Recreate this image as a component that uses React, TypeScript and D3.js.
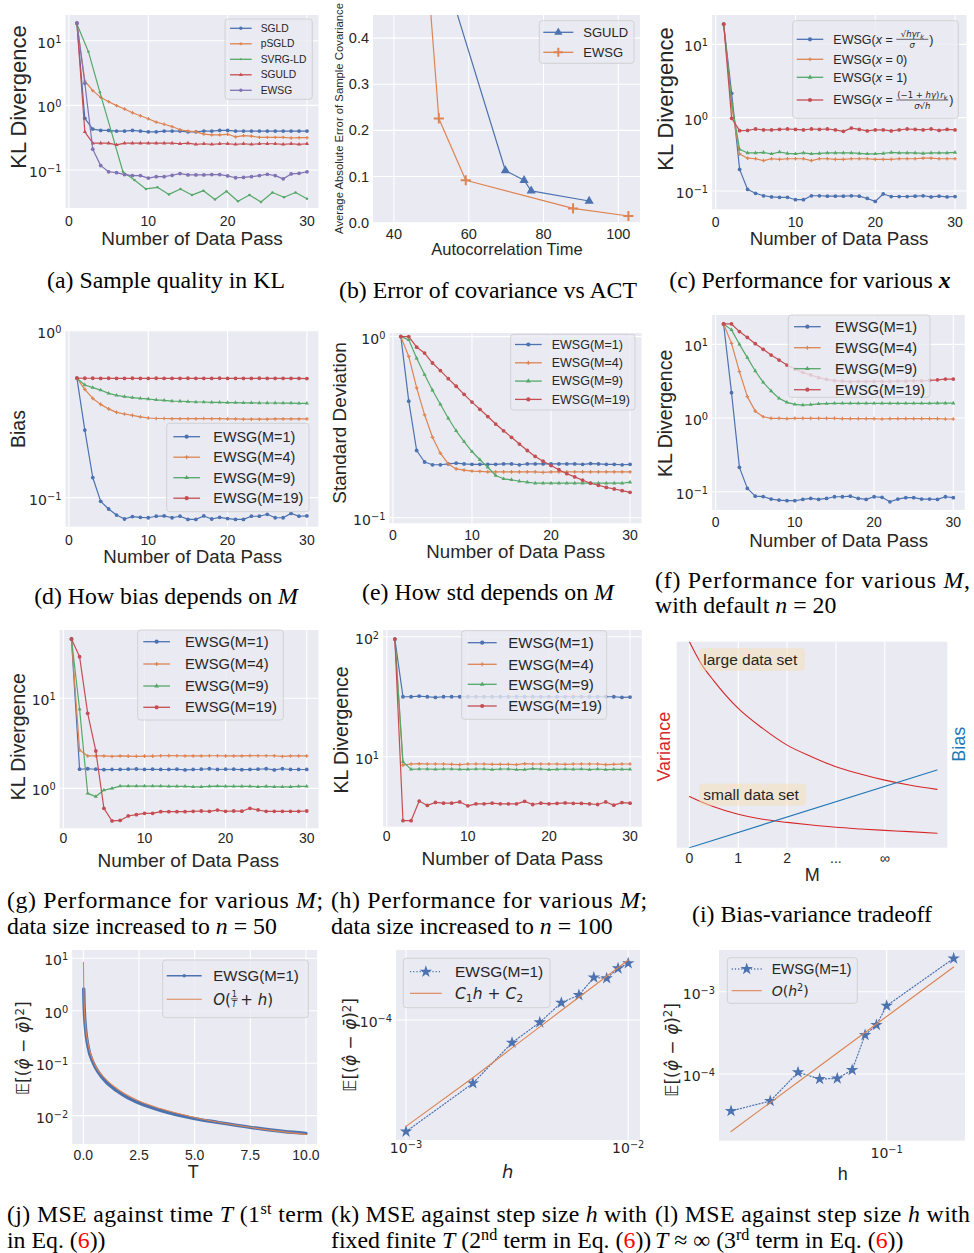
import React from 'react';
import * as d3 from 'd3';

// seaborn "deep" palette and darkgrid style
const BLUE = '#4C72B0';
const ORANGE = '#DD8452';
const GREEN = '#55A868';
const RED = '#C44E52';
const PURPLE = '#8172B3';
const TAB_RED = '#d62728';
const TAB_BLUE = '#1f77b4';
const BG = '#EAEAF2';
const INK = '#262626';
const SANS = "'Liberation Sans', Arial, Helvetica, sans-serif";
const MATH = "'DejaVu Sans', sans-serif";
const SERIF = "'Liberation Serif', 'Times New Roman', serif";

// ---------------- data ----------------
const passes = [1, 2, 3, 4, 5, 6, 7, 8, 9, 10, 11, 12, 13, 14, 15, 16, 17, 18, 19, 20, 21, 22, 23, 24, 25, 26, 27, 28, 29, 30];

// (a) sample quality in KL
const sgldA = [18.7, 0.63, 0.43, 0.41, 0.41, 0.40, 0.40, 0.41, 0.40, 0.39, 0.39, 0.40, 0.40, 0.40, 0.39, 0.39, 0.40, 0.40, 0.41, 0.41, 0.40, 0.40, 0.40, 0.40, 0.40, 0.40, 0.40, 0.40, 0.40, 0.40];
const psgldA = [18.7, 2.38, 1.69, 1.33, 1.14, 0.99, 0.88, 0.77, 0.69, 0.62, 0.55, 0.51, 0.47, 0.42, 0.40, 0.39, 0.36, 0.35, 0.35, 0.357, 0.325, 0.34, 0.335, 0.32, 0.32, 0.32, 0.32, 0.313, 0.316, 0.316];
const svrgPassA = [1, 2.45, 3.9, 5.35, 6.8, 8.25, 9.7, 11.15, 12.6, 14.05, 15.5, 16.95, 18.4, 19.85, 21.3, 22.75, 24.2, 25.65, 27.1, 28.55, 30];
const svrgA = [18.1, 6.76, 1.59, 0.39, 0.094, 0.070, 0.051, 0.054, 0.042, 0.051, 0.041, 0.048, 0.035, 0.047, 0.033, 0.041, 0.032, 0.045, 0.038, 0.045, 0.036];
const sguldA = [18.7, 0.39, 0.26, 0.26, 0.26, 0.245, 0.26, 0.26, 0.26, 0.26, 0.26, 0.26, 0.26, 0.255, 0.26, 0.25, 0.255, 0.25, 0.255, 0.255, 0.25, 0.255, 0.25, 0.255, 0.255, 0.255, 0.25, 0.255, 0.25, 0.255];
const ewsgA = [18.7, 2.19, 0.21, 0.117, 0.094, 0.091, 0.085, 0.082, 0.082, 0.075, 0.079, 0.079, 0.083, 0.088, 0.084, 0.084, 0.084, 0.085, 0.085, 0.081, 0.076, 0.077, 0.079, 0.082, 0.086, 0.082, 0.073, 0.087, 0.089, 0.094];

// (b) error of covariance vs autocorrelation time
const sguldActB = [51.3, 69.8, 74.8, 76.7, 92.2];
const sguldErrB = [0.6, 0.113, 0.092, 0.069, 0.047];
const ewsgActB = [48.0, 52.0, 59.2, 87.9, 102.7];
const ewsgErrB = [0.65, 0.226, 0.092, 0.031, 0.0145];

// (c) various x
const cBlue = [18.9, 2.15, 0.197, 0.105, 0.093, 0.086, 0.083, 0.082, 0.082, 0.076, 0.076, 0.086, 0.086, 0.085, 0.085, 0.085, 0.086, 0.085, 0.079, 0.072, 0.091, 0.084, 0.084, 0.084, 0.085, 0.086, 0.083, 0.085, 0.083, 0.084];
const cOrange = [18.9, 1.45, 0.32, 0.28, 0.275, 0.26, 0.275, 0.27, 0.275, 0.275, 0.275, 0.26, 0.275, 0.275, 0.27, 0.27, 0.275, 0.275, 0.275, 0.27, 0.27, 0.27, 0.275, 0.275, 0.275, 0.28, 0.28, 0.275, 0.275, 0.275];
const cGreen = [18.9, 1.6, 0.37, 0.33, 0.33, 0.335, 0.32, 0.34, 0.325, 0.32, 0.33, 0.32, 0.325, 0.33, 0.33, 0.33, 0.33, 0.325, 0.32, 0.32, 0.325, 0.335, 0.33, 0.33, 0.33, 0.325, 0.33, 0.33, 0.33, 0.335];
const cRed = [18.9, 0.98, 0.665, 0.67, 0.70, 0.68, 0.68, 0.69, 0.70, 0.69, 0.68, 0.70, 0.69, 0.70, 0.68, 0.65, 0.72, 0.69, 0.66, 0.68, 0.68, 0.66, 0.68, 0.70, 0.69, 0.68, 0.70, 0.67, 0.69, 0.68];

// (d) bias vs M
const dBlue = [0.52, 0.254, 0.132, 0.095, 0.0855, 0.0787, 0.0745, 0.077, 0.0762, 0.0758, 0.0774, 0.0777, 0.0758, 0.0774, 0.0741, 0.0741, 0.0777, 0.0745, 0.0762, 0.0749, 0.0741, 0.0741, 0.0774, 0.0774, 0.0795, 0.0758, 0.0758, 0.0805, 0.0774, 0.0777];
const dOrange = [0.52, 0.445, 0.393, 0.362, 0.34, 0.324, 0.317, 0.311, 0.305, 0.300, 0.298, 0.298, 0.297, 0.297, 0.297, 0.297, 0.298, 0.297, 0.297, 0.296, 0.296, 0.295, 0.295, 0.295, 0.295, 0.296, 0.296, 0.296, 0.296, 0.296];
const dGreen = [0.52, 0.473, 0.456, 0.441, 0.421, 0.41, 0.403, 0.397, 0.393, 0.390, 0.385, 0.383, 0.379, 0.378, 0.376, 0.374, 0.374, 0.372, 0.372, 0.371, 0.371, 0.370, 0.370, 0.369, 0.369, 0.369, 0.368, 0.368, 0.367, 0.367];
const dRed = [0.52, 0.519, 0.519, 0.518, 0.519, 0.518, 0.518, 0.519, 0.518, 0.518, 0.519, 0.518, 0.518, 0.518, 0.519, 0.518, 0.518, 0.518, 0.519, 0.518, 0.518, 0.518, 0.518, 0.519, 0.518, 0.518, 0.518, 0.518, 0.518, 0.517];

// (e) std vs M
const eBlue = [1.0, 0.44, 0.235, 0.203, 0.196, 0.196, 0.198, 0.2, 0.198, 0.197, 0.197, 0.197, 0.197, 0.198, 0.198, 0.196, 0.198, 0.198, 0.198, 0.198, 0.198, 0.198, 0.198, 0.197, 0.199, 0.198, 0.197, 0.197, 0.196, 0.197];
const eOrange = [1.0, 0.777, 0.521, 0.37, 0.278, 0.227, 0.198, 0.186, 0.183, 0.181, 0.18, 0.179, 0.179, 0.179, 0.179, 0.179, 0.179, 0.179, 0.178, 0.179, 0.179, 0.179, 0.179, 0.179, 0.179, 0.179, 0.179, 0.179, 0.179, 0.179];
const eGreen = [1.0, 0.96, 0.76, 0.617, 0.506, 0.423, 0.354, 0.302, 0.263, 0.232, 0.209, 0.19, 0.171, 0.164, 0.162, 0.159, 0.157, 0.155, 0.155, 0.155, 0.155, 0.155, 0.155, 0.155, 0.155, 0.155, 0.155, 0.155, 0.155, 0.157];
const eRed = [1.0, 1.0, 0.874, 0.811, 0.715, 0.649, 0.586, 0.532, 0.48, 0.435, 0.397, 0.362, 0.329, 0.302, 0.278, 0.255, 0.235, 0.218, 0.205, 0.194, 0.184, 0.175, 0.168, 0.161, 0.155, 0.151, 0.147, 0.144, 0.141, 0.138];

// (f) KL vs M, n = 20
const fBlue = [18.9, 2.21, 0.214, 0.111, 0.087, 0.086, 0.0795, 0.077, 0.0755, 0.0755, 0.0787, 0.081, 0.0787, 0.081, 0.0855, 0.0855, 0.087, 0.081, 0.0787, 0.0855, 0.084, 0.073, 0.0795, 0.083, 0.083, 0.0795, 0.0795, 0.0787, 0.0855, 0.083];
const fOrange = [18.9, 10.3, 4.26, 1.95, 1.24, 1.04, 0.99, 0.99, 0.98, 0.99, 0.99, 0.99, 0.99, 0.99, 0.99, 0.98, 0.98, 0.98, 0.98, 0.98, 0.97, 0.98, 0.98, 0.98, 0.98, 0.98, 0.98, 0.98, 0.97, 0.97];
const fGreen = [18.9, 15.7, 10.0, 6.6, 4.35, 3.05, 2.33, 1.85, 1.63, 1.53, 1.5, 1.52, 1.56, 1.57, 1.58, 1.58, 1.58, 1.58, 1.58, 1.58, 1.58, 1.58, 1.58, 1.58, 1.58, 1.58, 1.58, 1.59, 1.59, 1.59];
const fRed = [18.9, 18.9, 14.9, 12.4, 10.2, 8.55, 7.16, 6.12, 5.24, 4.62, 4.17, 3.84, 3.53, 3.35, 3.21, 3.17, 3.11, 3.14, 3.14, 3.14, 3.14, 3.14, 3.17, 3.17, 3.2, 3.2, 3.25, 3.3, 3.38, 3.38];

// (g) KL vs M, n = 50
const gBlue = [45.6, 1.63, 1.65, 1.63, 1.61, 1.62, 1.62, 1.63, 1.64, 1.62, 1.63, 1.62, 1.62, 1.63, 1.6, 1.62, 1.63, 1.65, 1.62, 1.63, 1.63, 1.61, 1.62, 1.63, 1.65, 1.6, 1.65, 1.62, 1.62, 1.62];
const gOrange = [45.6, 2.67, 2.29, 2.29, 2.29, 2.26, 2.29, 2.28, 2.27, 2.28, 2.28, 2.3, 2.31, 2.3, 2.29, 2.29, 2.29, 2.3, 2.3, 2.29, 2.29, 2.29, 2.31, 2.3, 2.3, 2.3, 2.26, 2.29, 2.29, 2.29];
const gGreen = [45.6, 7.6, 0.88, 0.81, 0.957, 1.0, 1.06, 1.06, 1.06, 1.06, 1.06, 1.06, 1.05, 1.05, 1.05, 1.04, 1.04, 1.05, 1.06, 1.05, 1.05, 1.05, 1.05, 1.04, 1.05, 1.04, 1.04, 1.04, 1.05, 1.05];
const gRed = [45.6, 29, 6.81, 2.6, 0.6, 0.434, 0.44, 0.493, 0.51, 0.527, 0.527, 0.55, 0.55, 0.55, 0.55, 0.555, 0.56, 0.555, 0.573, 0.555, 0.56, 0.557, 0.6, 0.575, 0.555, 0.555, 0.555, 0.555, 0.555, 0.56];

// (h) KL vs M, n = 100
const hBlue = [95.6, 31.6, 31.6, 32.0, 31.6, 31.2, 31.6, 31.6, 31.6, 31.6, 31.6, 31.6, 31.6, 31.6, 31.6, 31.6, 31.6, 31.6, 31.6, 31.6, 31.6, 31.6, 31.6, 31.6, 31.6, 31.6, 31.6, 31.6, 31.2, 31.4];
const hOrange = [95.6, 8.5, 8.7, 8.75, 8.7, 8.7, 8.7, 8.65, 8.6, 8.7, 8.7, 8.7, 8.65, 8.65, 8.65, 8.6, 8.75, 8.7, 8.7, 8.7, 8.7, 8.65, 8.7, 8.7, 8.7, 8.7, 8.6, 8.65, 8.7, 8.7];
const hGreen = [95.6, 9.1, 7.84, 7.9, 7.9, 7.85, 7.9, 7.9, 7.85, 7.85, 7.9, 7.9, 7.8, 7.9, 7.9, 7.8, 7.8, 7.95, 7.9, 7.8, 7.85, 7.9, 7.85, 7.9, 7.8, 7.9, 7.8, 7.85, 7.85, 7.85];
const hRed = [95.6, 2.93, 2.93, 4.27, 3.93, 4.16, 4.1, 4.1, 4.2, 3.9, 4.05, 4.05, 4.1, 4.05, 4.05, 4.05, 4.25, 4.0, 4.1, 4.05, 4.08, 4.12, 4.08, 4.08, 4.05, 4.0, 4.2, 3.95, 4.15, 4.1];

// (i) bias-variance sketch
const iM = [0, 0.25, 0.5, 1, 1.5, 2, 2.5, 3, 3.5, 4, 4.5, 5.07];
const iVarLarge = [1.0, 0.89, 0.81, 0.676, 0.579, 0.498, 0.442, 0.393, 0.358, 0.328, 0.304, 0.283];
const iVarSmall = [0.248, 0.222, 0.199, 0.162, 0.138, 0.123, 0.11, 0.099, 0.091, 0.084, 0.078, 0.07];
const iBiasM = [0, 5.07];
const iBias = [0, 0.377];
const iTickLabels = ['0', '1', '2', '...', '\u221E'];

// (j) MSE vs T
const jTimeBlue = [0.017, 0.03, 0.05, 0.1, 0.2, 0.45, 0.7, 1.0, 1.5, 2.0, 2.5, 3.5, 5.0, 6.0, 7.5, 9.0, 10.0];
const jMseBlue = [2.6, 1.5, 0.9, 0.45, 0.22, 0.1, 0.065, 0.045, 0.03, 0.022, 0.0175, 0.0125, 0.0088, 0.0075, 0.006, 0.005, 0.0046];
const jTimeFit = [0.006, 0.01, 0.03, 0.05, 0.1, 0.2, 0.45, 1.0, 1.5, 2.5, 3.5, 5.0, 7.5, 10.0];
const jMseFit = [8.4, 5.0, 1.7, 1.0, 0.5, 0.25, 0.11, 0.05, 0.033, 0.019, 0.0135, 0.0092, 0.006, 0.0044];

// (k) MSE vs h, finite T
const kH = [0.001, 0.002, 0.003, 0.004, 0.005, 0.006, 0.007, 0.008, 0.009, 0.01];
const kMse = [2.14e-5, 4.17e-5, 7.31e-5, 9.68e-5, 1.27e-4, 1.41e-4, 1.80e-4, 1.78e-4, 2.04e-4, 2.19e-4];
const kFit = [2.3e-5, 4.5e-5, 6.8e-5, 9.1e-5, 1.14e-4, 1.37e-4, 1.6e-4, 1.83e-4, 2.06e-4, 2.29e-4];

// (l) MSE vs h, T ~ infinity
const lH = [0.02, 0.03, 0.04, 0.05, 0.06, 0.07, 0.08, 0.09, 0.1, 0.2];
const lMse = [3.56e-5, 4.7e-5, 1.05e-4, 8.69e-5, 8.85e-5, 1.12e-4, 2.98e-4, 3.94e-4, 6.76e-4, 2.54e-3];
const lFit = [2e-5, 4.5e-5, 8e-5, 1.25e-4, 1.8e-4, 2.45e-4, 3.2e-4, 4.05e-4, 5e-4, 2e-3];

const mLabels = ['EWSG(M=1)', 'EWSG(M=4)', 'EWSG(M=9)', 'EWSG(M=19)'];

// ---------------- helpers ----------------
type Marker = 'dot' | 'plus' | 'tri' | 'star' | 'none';
interface Series { x: number[]; y: number[]; color: string; marker: Marker; ms?: number; lw?: number; dash?: string; smooth?: boolean; }
interface LegendItem { label?: string; render?: (tx: number, ty: number, fs: number) => React.ReactNode; color: string; marker: Marker; ms?: number; lw?: number; dash?: string; }
interface LegendSpec { x0: number; y0: number; x1: number; y1: number; rows: number[]; h0: number; h1: number; tx: number; fs: number; items: LegendItem[]; }
interface Tick { v: number; label: React.ReactNode; math?: boolean; }
interface PanelSpec {
  id: string; L: number; R: number; T: number; B: number;
  xLog?: boolean; yLog?: boolean; xDom: [number, number]; yDom: [number, number];
  xTicks: Tick[]; yTicks: Tick[]; tickFs: number; xTickY: number;
  xLabel: React.ReactNode; xl: [number, number, number];
  yLabel: React.ReactNode; yl: [number, number, number]; yLabelFont?: string; yLabelColor?: string;
  series: Series[]; legend?: LegendSpec;
  overlay?: () => React.ReactNode;
}

const pow10 = (e: number) => (
  <>10<tspan dy="-0.5em" fontSize="0.7em">{e < 0 ? '\u2212' + -e : String(e)}</tspan></>
);
const decade = (e: number): Tick => ({ v: 10 ** e, label: pow10(e), math: true });
const lin = (vals: number[], fmt?: (v: number) => string): Tick[] =>
  vals.map(v => ({ v, label: fmt ? fmt(v) : String(v) }));

function Mark({ m, x, y, c, s = 1 }: { m: Marker; x: number; y: number; c: string; s?: number }) {
  if (m === 'dot') return <circle cx={x} cy={y} r={2.1 * s} fill={c} />;
  if (m === 'plus') {
    const a = 2.4 * s;
    return <path d={`M${x - a},${y}H${x + a}M${x},${y - a}V${y + a}`} stroke={c} strokeWidth={s > 1.5 ? 2 : 1.2} />;
  }
  if (m === 'tri') {
    const r = 2.8 * s;
    return <path d={`M${x},${y - r}L${x + r * 0.866},${y + r * 0.5}L${x - r * 0.866},${y + r * 0.5}Z`} fill={c} />;
  }
  if (m === 'star') return <path transform={`translate(${x},${y})`} d={d3.symbol(d3.symbolStar, 48 * s * s)() as string} fill={c} />;
  return null;
}

function Frac({ cx, y, w, num, den, fs = 8.5 }: { cx: number; y: number; w: number; num: React.ReactNode; den: React.ReactNode; fs?: number }) {
  return (
    <g fontFamily={MATH} fontSize={fs} fill={INK}>
      <text x={cx} y={y - 2.3} textAnchor="middle">{num}</text>
      <line x1={cx - w / 2} x2={cx + w / 2} y1={y} y2={y} stroke={INK} strokeWidth={0.7} />
      <text x={cx} y={y + 8.6} textAnchor="middle">{den}</text>
    </g>
  );
}

function Panel({ p }: { p: PanelSpec }) {
  const x: any = (p.xLog ? d3.scaleLog() : d3.scaleLinear()).domain(p.xDom).range([p.L, p.R]);
  const y: any = (p.yLog ? d3.scaleLog() : d3.scaleLinear()).domain(p.yDom).range([p.B, p.T]);
  const clip = `clip-${p.id}`;
  const lg = p.legend;
  return (
    <g>
      <clipPath id={clip}><rect x={p.L} y={p.T} width={p.R - p.L} height={p.B - p.T} /></clipPath>
      <rect x={p.L} y={p.T} width={p.R - p.L} height={p.B - p.T} fill={BG} />
      {p.xTicks.map((t, i) => <line key={'gx' + i} x1={x(t.v)} x2={x(t.v)} y1={p.T} y2={p.B} stroke="#fff" strokeWidth={1.1} />)}
      {p.yTicks.map((t, i) => <line key={'gy' + i} x1={p.L} x2={p.R} y1={y(t.v)} y2={y(t.v)} stroke="#fff" strokeWidth={1.1} />)}
      <g clipPath={`url(#${clip})`}>
        {p.series.map((s, i) => {
          const gen = d3.line<number>().x((_, j) => x(s.x[j])).y(d => y(d));
          if (s.smooth) gen.curve(d3.curveMonotoneX);
          return (
            <g key={'s' + i}>
              <path d={gen(s.y) as string} fill="none" stroke={s.color} strokeWidth={s.lw ?? 1.2} strokeDasharray={s.dash} strokeLinejoin="round" strokeLinecap="round" />
              {s.marker !== 'none' && s.y.map((v, j) => <Mark key={j} m={s.marker} x={x(s.x[j])} y={y(v)} c={s.color} s={s.ms ?? 1} />)}
            </g>
          );
        })}
      </g>
      {p.overlay && p.overlay()}
      {p.xTicks.map((t, i) => (
        <text key={'tx' + i} x={x(t.v)} y={p.xTickY} dy="0.35em" textAnchor="middle" fontSize={p.tickFs} fontFamily={t.math ? MATH : SANS} fill={INK}>{t.label}</text>
      ))}
      {p.yTicks.map((t, i) => (
        <text key={'ty' + i} x={p.L - 4} y={y(t.v)} dy={t.math ? '0.5em' : '0.35em'} textAnchor="end" fontSize={p.tickFs} fontFamily={t.math ? MATH : SANS} fill={INK}>{t.label}</text>
      ))}
      <text x={p.xl[0]} y={p.xl[1]} dy="0.35em" textAnchor="middle" fontSize={p.xl[2]} fill={INK}>{p.xLabel}</text>
      <text transform={`translate(${p.yl[0]},${p.yl[1]}) rotate(-90)`} dy="0.35em" textAnchor="middle" fontSize={p.yl[2]} fontFamily={p.yLabelFont ?? SANS} fill={p.yLabelColor ?? INK}>{p.yLabel}</text>
      {lg && (
        <g>
          <rect x={lg.x0} y={lg.y0} width={lg.x1 - lg.x0} height={lg.y1 - lg.y0} rx={3} fill={BG} fillOpacity={0.8} stroke="#cccccc" strokeWidth={0.8} />
          {lg.items.map((it, i) => {
            const ty = lg.rows[i];
            return (
              <g key={'lg' + i}>
                <line x1={lg.h0} x2={lg.h1} y1={ty} y2={ty} stroke={it.color} strokeWidth={it.lw ?? 1.3} strokeDasharray={it.dash} />
                <Mark m={it.marker} x={(lg.h0 + lg.h1) / 2} y={ty} c={it.color} s={it.ms ?? 1} />
                {it.render ? it.render(lg.tx, ty, lg.fs) : (
                  <text x={lg.tx} y={ty} dy="0.35em" fontSize={lg.fs} fill={INK}>{it.label}</text>
                )}
              </g>
            );
          })}
        </g>
      )}
    </g>
  );
}

const passDom: [number, number] = [-0.45, 31.45];
const passTicks = lin([0, 10, 20, 30]);
const mItems = (): LegendItem[] => [
  { label: mLabels[0], color: BLUE, marker: 'dot' },
  { label: mLabels[1], color: ORANGE, marker: 'plus', ms: 0.85 },
  { label: mLabels[2], color: GREEN, marker: 'tri' },
  { label: mLabels[3], color: RED, marker: 'dot' },
];
const mSeries = (b: number[], o: number[], g: number[], r: number[]): Series[] => [
  { x: passes, y: b, color: BLUE, marker: 'dot', ms: 0.9 },
  { x: passes, y: o, color: ORANGE, marker: 'plus', ms: 0.75 },
  { x: passes, y: g, color: GREEN, marker: 'tri', ms: 0.85 },
  { x: passes, y: r, color: RED, marker: 'dot', ms: 0.9 },
];

const mseLabel = (
  <>
    <tspan>{'\uD835\uDD3C'}[(</tspan>
    <tspan fontStyle="italic">{'\u03C6\u0302'}</tspan>
    <tspan> {'\u2212'} </tspan>
    <tspan fontStyle="italic">{'\u03C6\u0304'}</tspan>
    <tspan>)</tspan>
    <tspan dy="-0.45em" fontSize="0.7em">2</tspan>
    <tspan dy="0.32em">]</tspan>
  </>
);

const xEq = (tail: string) => (tx: number, ty: number, fs: number) => (
  <text x={tx} y={ty} dy="0.35em" fontSize={fs} fill={INK}>EWSG(<tspan fontStyle="italic">x</tspan>{' = ' + tail}</text>
);

const panels: PanelSpec[] = [
  {
    id: 'a', L: 65.4, R: 318.5, T: 15, B: 208, yLog: true, xDom: passDom, yDom: [10 ** -1.587, 10 ** 1.397],
    xTicks: passTicks, yTicks: [-1, 0, 1].map(decade), tickFs: 14, xTickY: 221,
    xLabel: 'Number of Data Pass', xl: [192, 238, 19], yLabel: 'KL Divergence', yl: [18, 97, 22],
    series: [
      { x: passes, y: sgldA, color: BLUE, marker: 'dot', ms: 0.9 },
      { x: passes, y: psgldA, color: ORANGE, marker: 'plus', ms: 0.7 },
      { x: svrgPassA, y: svrgA, color: GREEN, marker: 'dot', ms: 0.6 },
      { x: passes, y: sguldA, color: RED, marker: 'tri', ms: 0.85 },
      { x: passes, y: ewsgA, color: PURPLE, marker: 'dot', ms: 0.9 },
    ],
    legend: {
      x0: 225, y0: 19, x1: 312.3, y1: 99.3, rows: [28.3, 43.8, 59.3, 74.8, 90.3], h0: 230, h1: 251.7, tx: 260.7, fs: 10.3,
      items: [
        { label: 'SGLD', color: BLUE, marker: 'dot', ms: 0.8 },
        { label: 'pSGLD', color: ORANGE, marker: 'plus', ms: 0.6 },
        { label: 'SVRG-LD', color: GREEN, marker: 'dot', ms: 0.5 },
        { label: 'SGULD', color: RED, marker: 'tri', ms: 0.8 },
        { label: 'EWSG', color: PURPLE, marker: 'dot', ms: 0.8 },
      ],
    },
  },
  {
    id: 'b', L: 373, R: 640, T: 15, B: 222.7, xDom: [34.4, 105.8], yDom: [0, 0.45],
    xTicks: lin([40, 60, 80, 100]), yTicks: lin([0, 0.1, 0.2, 0.3, 0.4], v => v.toFixed(1)), tickFs: 14.5, xTickY: 233.5,
    xLabel: 'Autocorrelation Time', xl: [507, 249, 16.5], yLabel: 'Average Absolute Error of Sample Covariance', yl: [339.5, 118.5, 11.3],
    series: [
      { x: sguldActB, y: sguldErrB, color: BLUE, marker: 'tri', ms: 1.9 },
      { x: ewsgActB, y: ewsgErrB, color: ORANGE, marker: 'plus', ms: 2.1 },
    ],
    legend: {
      x0: 539.3, y0: 20.7, x1: 634, y1: 63.3, rows: [32.3, 52.3], h0: 543.3, h1: 573.3, tx: 583.3, fs: 13,
      items: [
        { label: 'SGULD', color: BLUE, marker: 'tri', ms: 1.7 },
        { label: 'EWSG', color: ORANGE, marker: 'plus', ms: 1.9 },
      ],
    },
  },
  {
    id: 'c', L: 712.1, R: 966.6, T: 15, B: 209.3, yLog: true, xDom: passDom, yDom: [10 ** -1.25, 10 ** 1.4],
    xTicks: passTicks, yTicks: [-1, 0, 1].map(decade), tickFs: 14, xTickY: 221.7,
    xLabel: 'Number of Data Pass', xl: [839, 238.3, 18.7], yLabel: 'KL Divergence', yl: [665, 99, 22],
    series: mSeries(cBlue, cOrange, cGreen, cRed),
    legend: {
      x0: 792.7, y0: 20.7, x1: 958.3, y1: 118.3, rows: [39.3, 59.3, 77.3, 100], h0: 796.7, h1: 823.3, tx: 833.3, fs: 12.5,
      items: [
        {
          color: BLUE, marker: 'dot', render: (tx, ty, fs) => (
            <g>
              {xEq('')(tx, ty, fs)}
              <Frac cx={tx + 79} y={ty} w={32} fs={8.5} num={<tspan fontStyle="italic">{'\u221Ah\u03B3r'}<tspan fontSize="0.75em" dy="2">k</tspan></tspan>} den={<tspan fontStyle="italic">{'\u03C3'}</tspan>} />
              <text x={tx + 96} y={ty} dy="0.35em" fontSize={fs} fill={INK}>)</text>
            </g>
          ),
        },
        { color: ORANGE, marker: 'plus', ms: 0.8, render: xEq('0)') },
        { color: GREEN, marker: 'tri', render: xEq('1)') },
        {
          color: RED, marker: 'dot', render: (tx, ty, fs) => (
            <g>
              {xEq('')(tx, ty, fs)}
              <Frac cx={tx + 89} y={ty} w={52} fs={8.5} num={<>{'(\u22121 + '}<tspan fontStyle="italic">{'h\u03B3'}</tspan>){'\u200A'}<tspan fontStyle="italic">r</tspan><tspan fontSize="0.75em" dy="2">k</tspan></>} den={<tspan fontStyle="italic">{'\u03C3\u221Ah'}</tspan>} />
              <text x={tx + 116} y={ty} dy="0.35em" fontSize={fs} fill={INK}>)</text>
            </g>
          ),
        },
      ],
    },
  },
  {
    id: 'd', L: 65.4, R: 318.4, T: 330.7, B: 526.7, yLog: true, xDom: passDom, yDom: [10 ** -1.174, 1],
    xTicks: passTicks, yTicks: [-1, 0].map(decade), tickFs: 14, xTickY: 540,
    xLabel: 'Number of Data Pass', xl: [192.7, 556.7, 18.7], yLabel: 'Bias', yl: [18.3, 429, 19.5],
    series: mSeries(dBlue, dOrange, dGreen, dRed),
    legend: { x0: 166.7, y0: 423.3, x1: 309, y1: 511.7, rows: [436.7, 457.2, 477.7, 498.2], h0: 173.3, h1: 200, tx: 213.3, fs: 14.4, items: mItems() },
  },
  {
    id: 'e', L: 389.4, R: 641.5, T: 333, B: 523.3, yLog: true, xDom: passDom, yDom: [10 ** -1.031, 10 ** 0.02],
    xTicks: passTicks, yTicks: [-1, 0].map(decade), tickFs: 14, xTickY: 535,
    xLabel: 'Number of Data Pass', xl: [515.7, 551.7, 18.7], yLabel: 'Standard Deviation', yl: [339, 423, 19],
    series: mSeries(eBlue, eOrange, eGreen, eRed),
    legend: { x0: 510.7, y0: 334.3, x1: 635, y1: 410, rows: [344.5, 362.8, 381.1, 399.4], h0: 515, h1: 541.7, tx: 551.7, fs: 12.5, items: mItems() },
  },
  {
    id: 'f', L: 712.1, R: 964.8, T: 315, B: 510, yLog: true, xDom: passDom, yDom: [10 ** -1.248, 10 ** 1.398],
    xTicks: passTicks, yTicks: [-1, 0, 1].map(decade), tickFs: 14, xTickY: 521.7,
    xLabel: 'Number of Data Pass', xl: [838.7, 540, 18.7], yLabel: 'KL Divergence', yl: [665, 413.3, 19.5],
    series: mSeries(fBlue, fOrange, fGreen, fRed),
    legend: { x0: 788.3, y0: 315, x1: 930, y1: 397.3, rows: [326.7, 347.7, 368.7, 389.7], h0: 794, h1: 820.7, tx: 835, fs: 14.4, items: mItems() },
  },
  {
    id: 'g', L: 59.7, R: 318.5, T: 630, B: 828.3, yLog: true, xDom: passDom, yDom: [10 ** -0.444, 10 ** 1.759],
    xTicks: passTicks, yTicks: [0, 1].map(decade), tickFs: 14, xTickY: 838.3,
    xLabel: 'Number of Data Pass', xl: [188.3, 860, 19], yLabel: 'KL Divergence', yl: [18.3, 736.7, 19.5],
    series: mSeries(gBlue, gOrange, gGreen, gRed),
    legend: { x0: 137.7, y0: 630, x1: 283.3, y1: 720, rows: [641.7, 664, 686, 707.3], h0: 143.3, h1: 170, tx: 185, fs: 14.7, items: mItems() },
  },
  {
    id: 'h', L: 383.1, R: 641.8, T: 630, B: 826.7, yLog: true, xDom: passDom, yDom: [10 ** 0.417, 10 ** 2.056],
    xTicks: passTicks, yTicks: [1, 2].map(decade), tickFs: 14, xTickY: 836,
    xLabel: 'Number of Data Pass', xl: [512.3, 858.3, 19], yLabel: 'KL Divergence', yl: [341, 730, 19.5],
    series: mSeries(hBlue, hOrange, hGreen, hRed),
    legend: { x0: 461.7, y0: 630.7, x1: 606.7, y1: 719.3, rows: [642.7, 664.3, 684.3, 706], h0: 467.7, h1: 496.7, tx: 508.3, fs: 15, items: mItems() },
  },
  {
    id: 'i', L: 676.7, R: 947.3, T: 641.7, B: 847.7, xDom: [-0.26, 5.28], yDom: [0, 1],
    xTicks: iTickLabels.map((label, v) => ({ v, label })), yTicks: [], tickFs: 14, xTickY: 858,
    xLabel: 'M', xl: [812.3, 875, 18], yLabel: 'Variance', yl: [664, 746.7, 18], yLabelColor: TAB_RED,
    series: [
      { x: iM, y: iVarLarge, color: TAB_RED, marker: 'none', smooth: true, lw: 1.1 },
      { x: iM, y: iVarSmall, color: TAB_RED, marker: 'none', smooth: true, lw: 1.1 },
      { x: iBiasM, y: iBias, color: TAB_BLUE, marker: 'none', lw: 1.1 },
    ],
    overlay: () => (
      <g>
        <rect x={699.3} y={648.3} width={105.7} height={22.4} rx={4} fill="#f5deb3" fillOpacity={0.5} />
        <text x={703.3} y={659.5} dy="0.35em" fontSize={15.5} fill={INK}>large data set</text>
        <rect x={699.3} y={783.8} width={106.7} height={22} rx={4} fill="#f5deb3" fillOpacity={0.5} />
        <text x={703.3} y={794.8} dy="0.35em" fontSize={15.5} fill={INK}>small data set</text>
        <text transform="translate(958.3,744.3) rotate(-90)" dy="0.35em" textAnchor="middle" fontSize={18} fill={TAB_BLUE}>Bias</text>
      </g>
    ),
  },
  {
    id: 'j', L: 72.2, R: 317.1, T: 950, B: 1144, yLog: true, xDom: [-0.5, 10.5], yDom: [10 ** -2.54, 10 ** 1.158],
    xTicks: lin([0, 2.5, 5, 7.5, 10], v => v.toFixed(1)), yTicks: [-2, -1, 0, 1].map(decade), tickFs: 14, xTickY: 1155,
    xLabel: 'T', xl: [193.3, 1171.7, 18], yLabel: mseLabel, yl: [23.3, 1048.3, 17], yLabelFont: MATH,
    series: [
      { x: jTimeBlue, y: jMseBlue, color: BLUE, marker: 'none', lw: 3.4, smooth: true },
      { x: jTimeFit, y: jMseFit, color: ORANGE, marker: 'none', lw: 1.1, smooth: true },
    ],
    legend: {
      x0: 162.7, y0: 960, x1: 308.3, y1: 1017.7, rows: [975.7, 999.3], h0: 166.7, h1: 201.7, tx: 213.3, fs: 15,
      items: [
        { label: 'EWSG(M=1)', color: BLUE, marker: 'dot', ms: 0.8, lw: 1.6 },
        {
          color: ORANGE, marker: 'none', lw: 1.1, render: (tx, ty, fs) => (
            <g>
              <text x={tx} y={ty} dy="0.35em" fontSize={fs} fontFamily={MATH} fill={INK}><tspan fontStyle="italic">O</tspan>(</text>
              <Frac cx={tx + 21} y={ty - 0.5} w={7} fs={8} num="1" den={<tspan fontStyle="italic">T</tspan>} />
              <text x={tx + 27} y={ty} dy="0.35em" fontSize={fs} fontFamily={MATH} fill={INK}>{'+ '}<tspan fontStyle="italic">h</tspan>)</text>
            </g>
          ),
        },
      ],
    },
  },
  {
    id: 'k', L: 396, R: 640, T: 950, B: 1140, xLog: true, yLog: true, xDom: [10 ** -3.045, 10 ** -1.947], yDom: [10 ** -4.72, 10 ** -3.58],
    xTicks: [-3, -2].map(decade), yTicks: [-4].map(decade), tickFs: 14, xTickY: 1148,
    xLabel: <tspan fontStyle="italic" fontFamily={MATH}>h</tspan>, xl: [507.7, 1171.7, 18], yLabel: mseLabel, yl: [350, 1045, 17], yLabelFont: MATH,
    series: [
      { x: kH, y: kMse, color: BLUE, marker: 'star', dash: '1.2,2', lw: 1.2 },
      { x: kH, y: kFit, color: ORANGE, marker: 'none', lw: 1.1 },
    ],
    legend: {
      x0: 403.3, y0: 958.3, x1: 550, y1: 1007.7, rows: [971.7, 993.3], h0: 410, h1: 441.7, tx: 455, fs: 15.5,
      items: [
        { label: 'EWSG(M=1)', color: BLUE, marker: 'star', dash: '1.2,2' },
        {
          color: ORANGE, marker: 'none', lw: 1.1, render: (tx, ty, fs) => (
            <text x={tx} y={ty} dy="0.35em" fontSize={fs} fontFamily={MATH} fill={INK}>
              <tspan fontStyle="italic">C</tspan><tspan fontSize="0.7em" dy="3">1</tspan><tspan fontStyle="italic" dy="-3">h</tspan>{' + '}<tspan fontStyle="italic">C</tspan><tspan fontSize="0.7em" dy="3">2</tspan>
            </text>
          ),
        },
      ],
    },
  },
  {
    id: 'l', L: 719, R: 965, T: 950, B: 1140.7, xLog: true, yLog: true, xDom: [10 ** -1.753, 10 ** -0.648], yDom: [10 ** -4.81, 10 ** -2.493],
    xTicks: [-1].map(decade), yTicks: [-4, -3].map(decade), tickFs: 14, xTickY: 1153,
    xLabel: 'h', xl: [842.7, 1174, 18], yLabel: mseLabel, yl: [671.7, 1050, 17], yLabelFont: MATH,
    series: [
      { x: lH, y: lMse, color: BLUE, marker: 'star', dash: '1.2,2', lw: 1.2 },
      { x: lH, y: lFit, color: ORANGE, marker: 'none', lw: 1.1 },
    ],
    legend: {
      x0: 727.3, y0: 957.7, x1: 857.3, y1: 1003.3, rows: [969, 990.7], h0: 731.7, h1: 761.7, tx: 771.7, fs: 14,
      items: [
        { label: 'EWSG(M=1)', color: BLUE, marker: 'star', dash: '1.2,2' },
        {
          color: ORANGE, marker: 'none', lw: 1.1, render: (tx, ty, fs) => (
            <text x={tx} y={ty} dy="0.35em" fontSize={fs} fontFamily={MATH} fill={INK}>
              <tspan fontStyle="italic">O</tspan>(<tspan fontStyle="italic">h</tspan><tspan fontSize="0.7em" dy="-5">2</tspan><tspan dy="5">)</tspan>
            </text>
          ),
        },
      ],
    },
  },
];

// ---------------- captions ----------------
const CAP = 23.8;
const I = ({ children }: { children: React.ReactNode }) => <tspan fontStyle="italic">{children}</tspan>;
// ordinal superscript followed by the rest of the line
const Ord = ({ sup, rest }: { sup: string; rest: string }) => (
  <><tspan dy={-8} fontSize={CAP * 0.68}>{sup}</tspan><tspan dy={8}>{rest}</tspan></>
);
const Six = () => <>(<tspan fill="#ff0000">6</tspan>)</>;

function Cap({ x, y, anchor = 'start', len, children }: { x: number; y: number; anchor?: string; len?: number; children: React.ReactNode }) {
  return (
    <text x={x} y={y} textAnchor={anchor as any} fontFamily={SERIF} fontSize={CAP} fill="#000"
      textLength={len} lengthAdjust={len ? 'spacing' : undefined}>{children}</text>
  );
}

export default function App() {
  return (
    <svg width={974} height={1253} viewBox="0 0 974 1253" style={{ position: 'absolute', left: 0, top: 0 }} fontFamily={SANS}>
      <rect width={974} height={1253} fill="#fff" />
      {panels.map(p => <Panel key={p.id} p={p} />)}

      <Cap x={166} y={288} anchor="middle">(a) Sample quality in KL</Cap>
      <Cap x={488} y={298} anchor="middle">(b) Error of covariance vs ACT</Cap>
      <Cap x={810} y={288} anchor="middle">(c) Performance for various <tspan fontWeight="bold" fontStyle="italic">x</tspan></Cap>

      <Cap x={166} y={604} anchor="middle">(d) How bias depends on <I>M</I></Cap>
      <Cap x={488} y={600} anchor="middle">(e) How std depends on <I>M</I></Cap>
      <Cap x={655} y={588} len={315}>(f) Performance for various <I>M</I>,</Cap>
      <Cap x={655} y={613}>with default <I>n</I> = 20</Cap>

      <Cap x={7} y={908} len={316}>(g) Performance for various <I>M</I>;</Cap>
      <Cap x={7} y={934}>data size increased to <I>n</I> = 50</Cap>
      <Cap x={331} y={908} len={316}>(h) Performance for various <I>M</I>;</Cap>
      <Cap x={331} y={934}>data size increased to <I>n</I> = 100</Cap>
      <Cap x={812} y={922} anchor="middle">(i) Bias-variance tradeoff</Cap>

      <Cap x={7} y={1222} len={316}>(j) MSE against time <I>T</I> (1<Ord sup="st" rest=" term" /></Cap>
      <Cap x={7} y={1248}>in Eq. <Six />)</Cap>
      <Cap x={331} y={1222} len={316}>(k) MSE against step size <I>h</I> with</Cap>
      <Cap x={331} y={1248}>fixed finite <I>T</I> (2<Ord sup="nd" rest=" term in Eq. " /><Six />)</Cap>
      <Cap x={655} y={1222} len={315}>(l) MSE against step size <I>h</I> with</Cap>
      <Cap x={655} y={1248}><I>T</I> {'\u2248'} {'\u221E'} (3<Ord sup="rd" rest=" term in Eq. " /><Six />)</Cap>
    </svg>
  );
}
